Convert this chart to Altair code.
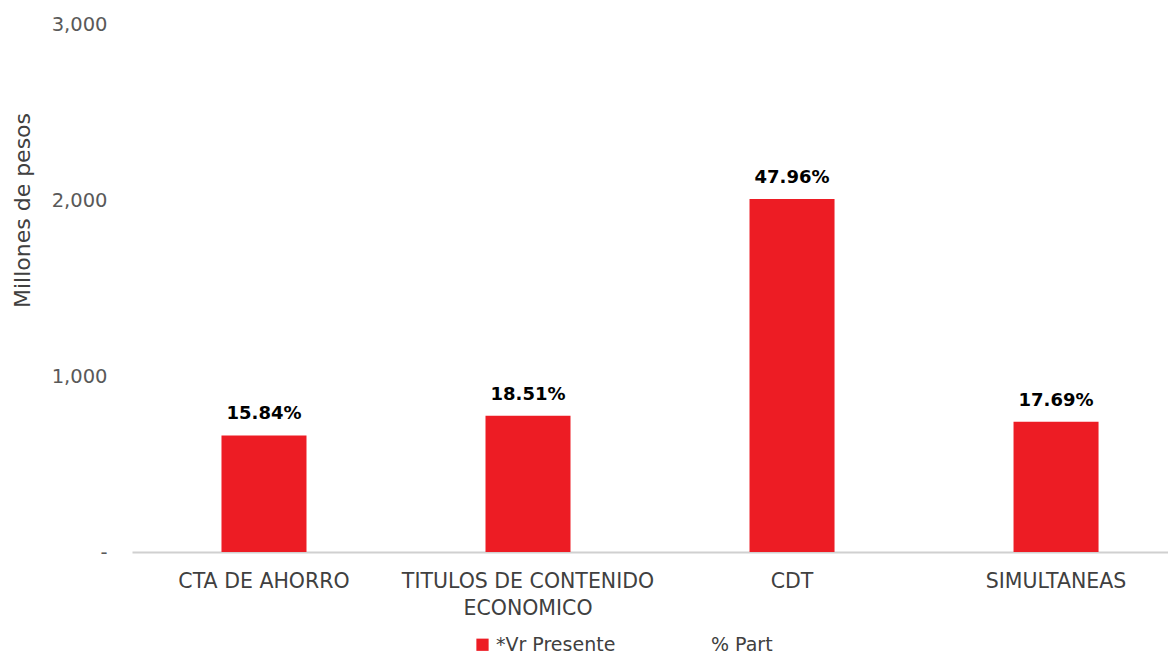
import altair as alt
import pandas as pd

categories = ["CTA DE AHORRO", "TITULOS DE CONTENIDO ECONOMICO", "CDT", "SIMULTANEAS"]
valores = [662, 774, 2006, 740]
part_labels = ["15.84%", "18.51%", "47.96%", "17.69%"]
series_names = ["*Vr Presente", "% Part"]

df = pd.DataFrame({
    "cat": categories,
    "valor": valores,
    "pct": part_labels,
    "serie": [series_names[0]] * len(categories),
})

FONT = "DejaVu Sans"

label_expr = ("datum.value == 'TITULOS DE CONTENIDO ECONOMICO' ? "
              "['TITULOS DE CONTENIDO', 'ECONOMICO'] : datum.value")

x = alt.X(
    "cat:N", sort=categories, title=None,
    scale=alt.Scale(paddingInner=0.678, paddingOuter=0.301, align=0.563),
    axis=alt.Axis(labelAngle=0, labelExpr=label_expr, labelFontSize=20.5,
                  labelColor="#404040", labelFont=FONT, labelPadding=35,
                  labelLineHeight=27, labelLimit=400, ticks=False,
                  domainColor="#d0d0d0", domainWidth=2,
                  labelBaseline="alphabetic"),
)
y = alt.Y(
    "valor:Q", title="Millones de pesos",
    scale=alt.Scale(domain=[0, 3000]),
    axis=alt.Axis(values=[0, 1000, 2000, 3000], grid=False, ticks=False, domain=False,
                  labelExpr="datum.value == 0 ? '-' : format(datum.value, ',')",
                  labelFontSize=19.5, labelColor="#595959", labelFont=FONT,
                  labelPadding=25, titleFont=FONT, titleFontSize=22,
                  titleFontWeight="normal", titleColor="#404040",
                  titleX=-110, titleY=186, titleAngle=-90,
                  titleAlign="center", titleBaseline="middle"),
)

bars = alt.Chart(df).mark_bar(color="#ED1C24").encode(
    x=x, y=y,
    color=alt.Color(
        "serie:N",
        scale=alt.Scale(domain=series_names, range=["#ED1C24", "transparent"]),
        legend=alt.Legend(
            title=None, orient="none", direction="horizontal",
            legendX=341, legendY=611, symbolType="square", symbolSize=150,
            symbolStrokeWidth=0, labelFont=FONT, labelFontSize=19,
            labelColor="#404040", labelOffset=4, columnPadding=72,
        ),
    ),
)

labels = alt.Chart(df).mark_text(
    font=FONT, fontSize=18, fontWeight="bold", color="#000000",
    baseline="alphabetic", dy=-16,
).encode(x=alt.X("cat:N", sort=categories), y="valor:Q", text="pct:N")

chart = alt.layer(bars, labels).properties(
    width=1036, height=528,
    padding={"left": 124, "top": 16, "right": 0, "bottom": 104},
    autosize=alt.AutoSizeParams(type="none"),
).configure_view(stroke=None)

chart.save("out.html", embed_options={"renderer": "svg", "actions": False})
